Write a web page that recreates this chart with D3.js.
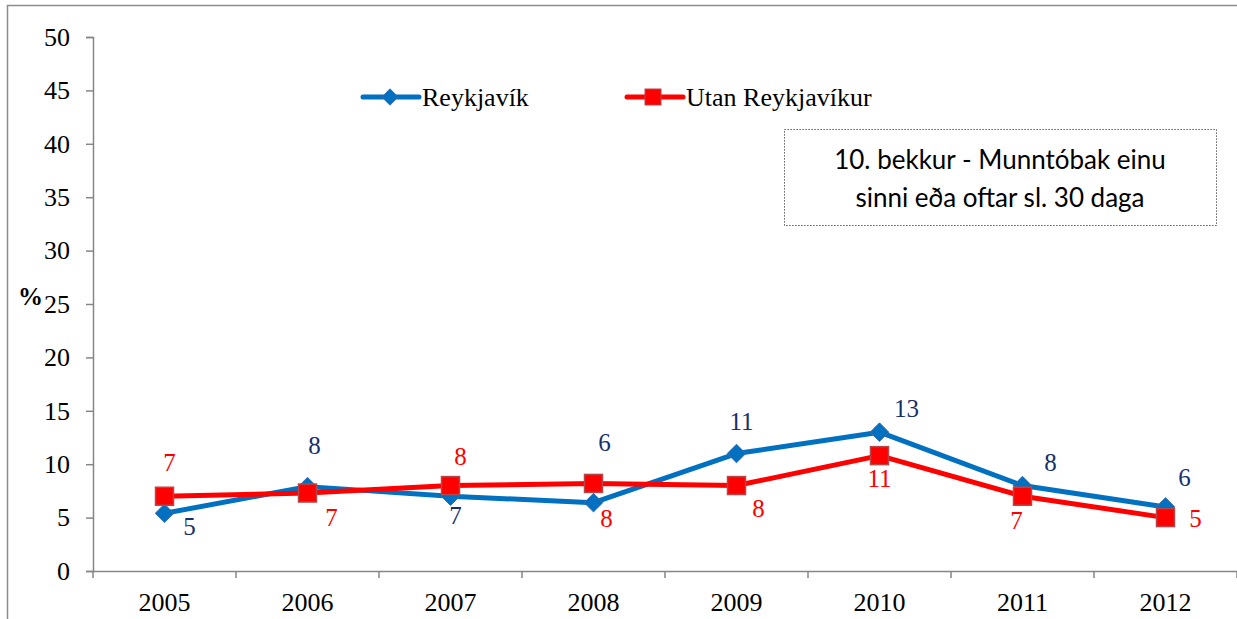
<!DOCTYPE html>
<html><head><meta charset="utf-8">
<script src="https://cdn.jsdelivr.net/npm/d3@7"></script>
<style>body{margin:0;background:#fff}svg{display:block}</style>
</head><body>
<svg id="c" width="1237" height="619"></svg>
<script>
const years = ["2005","2006","2007","2008","2009","2010","2011","2012"];
const reykjavik = [5.4, 7.9, 7.0, 6.4, 11.0, 13.0, 8.0, 6.0];
const utan = [7.0, 7.3, 8.0, 8.2, 8.0, 10.8, 7.0, 5.0];
const yTicks = [0,5,10,15,20,25,30,35,40,45,50];
const seriesNames = ["Reykjavík","Utan Reykjavíkur"];
const boxLines = ["10. bekkur - Munntóbak einu","sinni eða oftar sl. 30 daga"];
// label offsets (px) relative to the marker
const offRey = [[25,13],[7,-41],[5,19],[11,-60],[5,-32],[27,-24],[28,-23],[19,-30]];
const offUtan = [[5,-34],[24,24],[10,-29],[13,35],[22,23],[0,23],[-6,24],[30,1]];

const serif = "'Liberation Serif','Times New Roman',serif";
const svg = d3.select("#c");
const m = {l:93, r:1237, t:37, b:571};
svg.append("rect").attr("x",7.5).attr("y",5.5).attr("width",1240).attr("height",630)
  .attr("fill","none").attr("stroke","#8c8c8c").attr("stroke-width",1.5);

const x = d3.scaleBand().domain(years).range([m.l, m.r]).paddingInner(0).paddingOuter(0);
const y = d3.scaleLinear().domain([0,50]).range([m.b, m.t]);
const cx = d => x(d) + x.bandwidth()/2;

const yAxis = svg.append("g").attr("transform",`translate(${m.l},0)`)
  .call(d3.axisLeft(y).tickValues(yTicks).tickSize(7).tickPadding(16));
const xAxis = svg.append("g").attr("transform",`translate(0,${m.b})`)
  .call(d3.axisBottom(x).tickSize(0).tickPadding(22));
xAxis.selectAll(".bt").data(d3.range(years.length+1)).enter().append("line")
  .attr("x1",i=>m.l+i*x.bandwidth()).attr("x2",i=>m.l+i*x.bandwidth())
  .attr("y1",0).attr("y2",7).attr("stroke","#868686").attr("stroke-width",1.5);
[yAxis,xAxis].forEach(g=>{
  g.attr("font-family",serif).attr("font-size",26);
  g.select(".domain").attr("stroke","#868686").attr("stroke-width",1.5);
  g.selectAll(".tick line").attr("stroke","#868686").attr("stroke-width",1.5);
  g.selectAll("text").attr("font-family",serif).attr("font-size",26).attr("fill","#000");
});

svg.append("text").attr("x",18).attr("y",305).attr("font-family",serif)
  .attr("font-weight","bold").attr("font-size",25).text("%");

const line = d3.line().x((d,i)=>cx(years[i])).y(d=>y(d));
const blue = "#0070C0", red = "#FF0000";
svg.append("path").datum(reykjavik).attr("d",line).attr("fill","none").attr("stroke",blue).attr("stroke-width",5).attr("stroke-linejoin","round");
svg.append("path").datum(utan).attr("d",line).attr("fill","none").attr("stroke",red).attr("stroke-width",5).attr("stroke-linejoin","round");

const diamond = d3.symbol().type(d3.symbolDiamond2).size(220);
svg.selectAll(".dm").data(reykjavik).enter().append("path")
  .attr("d",diamond).attr("transform",(d,i)=>`translate(${cx(years[i])},${y(d)})`)
  .attr("fill",blue).attr("stroke","#3a6fb0").attr("stroke-width",1);
svg.selectAll(".sq").data(utan).enter().append("rect")
  .attr("x",(d,i)=>cx(years[i])-9).attr("y",d=>y(d)-9).attr("width",18).attr("height",18)
  .attr("fill",red).attr("stroke","#b5474a").attr("stroke-width",1.5);

const fmt = d3.format(".0f");
svg.selectAll(".lr").data(reykjavik).enter().append("text")
  .attr("x",(d,i)=>cx(years[i])+offRey[i][0]).attr("y",(d,i)=>y(d)+offRey[i][1])
  .attr("text-anchor","middle").attr("dy","0.35em").attr("font-family",serif)
  .attr("font-size",25).attr("fill","#17306B").text(d=>fmt(d));
svg.selectAll(".lu").data(utan).enter().append("text")
  .attr("x",(d,i)=>cx(years[i])+offUtan[i][0]).attr("y",(d,i)=>y(d)+offUtan[i][1])
  .attr("text-anchor","middle").attr("dy","0.35em").attr("font-family",serif)
  .attr("font-size",25).attr("fill",red).text(d=>fmt(d));

// legend
const lg = [{x:363,c:blue,t:seriesNames[0],m:"d"},{x:627,c:red,t:seriesNames[1],m:"s"}];
lg.forEach(l=>{
  svg.append("line").attr("x1",l.x).attr("x2",l.x+56).attr("y1",97).attr("y2",97)
    .attr("stroke",l.c).attr("stroke-width",5).attr("stroke-linecap","round");
  if(l.m==="d") svg.append("path").attr("d",d3.symbol().type(d3.symbolDiamond2).size(170))
    .attr("transform",`translate(${l.x+27},97)`).attr("fill",l.c).attr("stroke","#3a6fb0");
  else svg.append("rect").attr("x",l.x+18).attr("y",89).attr("width",16).attr("height",16)
    .attr("fill",l.c).attr("stroke","#b5474a");
  svg.append("text").attr("x",l.x+59).attr("y",97).attr("dy","0.35em")
    .attr("font-family",serif).attr("font-size",26).text(l.t);
});

// annotation box
svg.append("rect").attr("x",784.5).attr("y",129.5).attr("width",432).attr("height",96)
  .attr("fill","#fff").attr("stroke","#333").attr("stroke-width",1).attr("stroke-dasharray","1.2,1.8");
boxLines.forEach((t,i)=>svg.append("text").attr("x",1000).attr("y",160+i*38).attr("dy","0.35em")
  .attr("text-anchor","middle").attr("font-family","Lato").attr("font-size",26).attr("fill","#000").text(t));
</script>
</body></html>
